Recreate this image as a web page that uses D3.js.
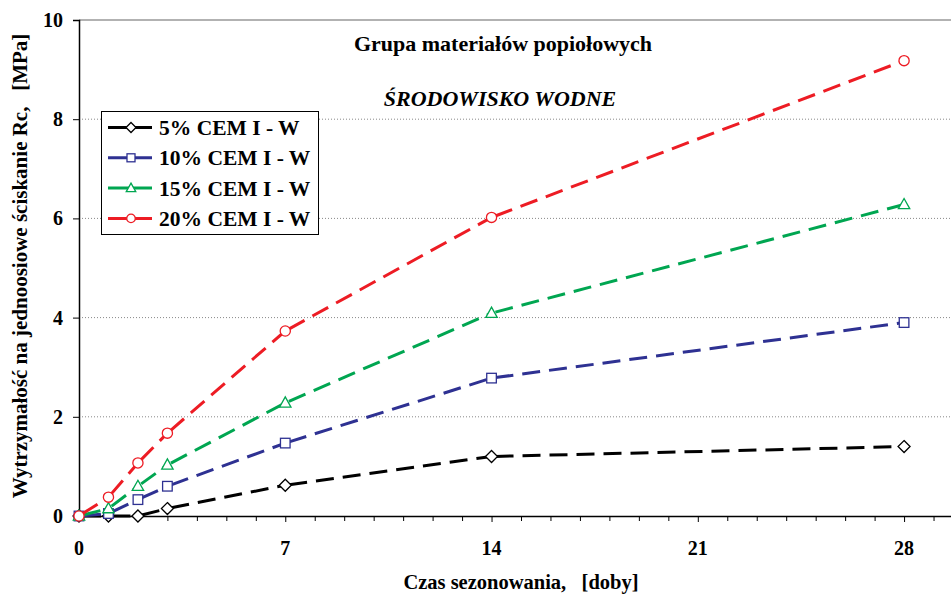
<!DOCTYPE html>
<html><head><meta charset="utf-8">
<script src="https://cdn.jsdelivr.net/npm/d3@7"></script>
<style>
body{margin:0;background:#fff;}
svg{display:block;font-family:"Liberation Serif","Times New Roman",serif;font-weight:bold;}
</style></head>
<body><svg id="c" width="951" height="594"></svg>
<script>
const days = [0, 1, 2, 3, 7, 14, 28];
const cem5  = [0, 0, 0, 0.15, 0.62, 1.2, 1.4];
const cem10 = [0, 0.05, 0.33, 0.6, 1.47, 2.78, 3.9];
const cem15 = [0, 0.15, 0.6, 1.03, 2.28, 4.09, 6.28];
const cem20 = [0, 0.38, 1.07, 1.67, 3.73, 6.02, 9.18];
const seriesNames = ["5% CEM I - W", "10% CEM I - W", "15% CEM I - W", "20% CEM I - W"];
const seriesColors = ["#000000", "#2e3192", "#00a651", "#ed1c24"];
const seriesMarkers = ["diamond", "square", "triangle", "circle"];
const xTicks = [0, 7, 14, 21, 28];
const yTicks = [0, 2, 4, 6, 8, 10];
const title1 = "Grupa materiałów popiołowych";
const title2 = "ŚRODOWISKO WODNE";
const xTitle = "Czas sezonowania,   [doby]";
const yTitle = "Wytrzymałość na jednoosiowe ściskanie Rc,   [MPa]";

const values = [cem5, cem10, cem15, cem20];
const svg = d3.select("#c");
const x = d3.scaleLinear().domain([0, 30]).range([79, 963]);
const y = d3.scaleLinear().domain([0, 10]).range([516, 20]);

// gridlines
svg.append("g").selectAll("line").data(yTicks.filter(d => d > 0 && d < 10)).join("line")
  .attr("x1", x(0)).attr("x2", 951).attr("y1", d => y(d)).attr("y2", d => y(d))
  .attr("stroke", "#888").attr("stroke-width", 1).attr("stroke-dasharray", "1,2");
// top border
svg.append("line").attr("x1", x(0)).attr("x2", 951).attr("y1", y(10)).attr("y2", y(10))
  .attr("stroke", "#999").attr("stroke-width", 1.5);

// axes
const xAxis = d3.axisBottom(x).tickValues(d3.range(0, 31, 1)).tickSize(5).tickFormat("");
const gx = svg.append("g").attr("transform", `translate(0,${y(0)})`).call(xAxis);
gx.select(".domain").attr("stroke", "#000").attr("stroke-width", 1.5);
gx.selectAll(".tick line").attr("stroke", "#000").attr("stroke-width", 1)
  .attr("y2", d => d % 7 === 0 ? 6 : 5);
svg.append("g").selectAll("text").data(xTicks).join("text")
  .attr("x", d => x(d)).attr("y", 555).attr("text-anchor", "middle")
  .attr("font-size", 20).text(d => d);

const yAxis = d3.axisLeft(y).tickValues(yTicks).tickSize(6).tickFormat("");
const gy = svg.append("g").attr("transform", `translate(${x(0)},0)`).call(yAxis);
gy.select(".domain").attr("stroke", "#000").attr("stroke-width", 1.5);
gy.selectAll(".tick line").attr("stroke", "#000");
svg.append("g").selectAll("text").data(yTicks).join("text")
  .attr("x", 63).attr("y", d => y(d) + 7).attr("text-anchor", "end")
  .attr("font-size", 20).text(d => d);

// titles
svg.append("text").attr("x", 503).attr("y", 51).attr("text-anchor", "middle")
  .attr("font-size", 22).text(title1);
svg.append("text").attr("x", 500).attr("y", 106).attr("text-anchor", "middle")
  .attr("font-size", 22).attr("font-style", "italic").text(title2);
svg.append("text").attr("x", 521).attr("y", 589).attr("text-anchor", "middle")
  .attr("font-size", 20.5).style("white-space", "pre").text(xTitle);
svg.append("text").attr("transform", "translate(27,266) rotate(-90)").attr("text-anchor", "middle")
  .attr("font-size", 21).style("white-space", "pre").text(yTitle);

// markers
function marker(g, type, color, size) {
  const s = size;
  if (type === "diamond") g.append("path").attr("d", `M0,${-s}L${s},0L0,${s}L${-s},0Z`);
  else if (type === "square") g.append("rect").attr("x", -s * 0.8).attr("y", -s * 0.8).attr("width", s * 1.6).attr("height", s * 1.6);
  else if (type === "triangle") g.append("path").attr("d", `M0,${-s}L${s * 0.95},${s * 0.7}L${-s * 0.95},${s * 0.7}Z`);
  else g.append("circle").attr("r", s * 0.85);
  g.selectAll("*").attr("fill", "#fff").attr("stroke", color).attr("stroke-width", 1.3);
}

const line = d3.line().x(d => x(d[0])).y(d => y(d[1]));
values.forEach((vals, i) => {
  const pts = days.map((d, j) => [d, vals[j]]);
  const g = svg.append("g");
  for (let j = 0; j < pts.length - 1; j++) {
    g.append("path").attr("d", line([pts[j], pts[j + 1]]))
      .attr("fill", "none").attr("stroke", seriesColors[i]).attr("stroke-width", 3)
      .attr("stroke-dasharray", "18,9").attr("stroke-dashoffset", -4);
  }
  pts.forEach(p => {
    const m = g.append("g").attr("transform", `translate(${x(p[0])},${y(p[1])})`);
    marker(m, seriesMarkers[i], seriesColors[i], 6);
  });
});

// legend
const lg = svg.append("g");
lg.append("rect").attr("x", 101.5).attr("y", 111.5).attr("width", 217).attr("height", 123)
  .attr("fill", "#fff").attr("stroke", "#000").attr("stroke-width", 1);
seriesNames.forEach((n, i) => {
  const yy = 127.5 + i * 30.3;
  lg.append("line").attr("x1", 108).attr("x2", 152).attr("y1", yy).attr("y2", yy)
    .attr("stroke", seriesColors[i]).attr("stroke-width", 3);
  const m = lg.append("g").attr("transform", `translate(131,${yy})`);
  marker(m, seriesMarkers[i], seriesColors[i], 5);
  lg.append("text").attr("x", 159).attr("y", yy + 7.5).attr("font-size", 21.5).text(n);
});
</script></body></html>
